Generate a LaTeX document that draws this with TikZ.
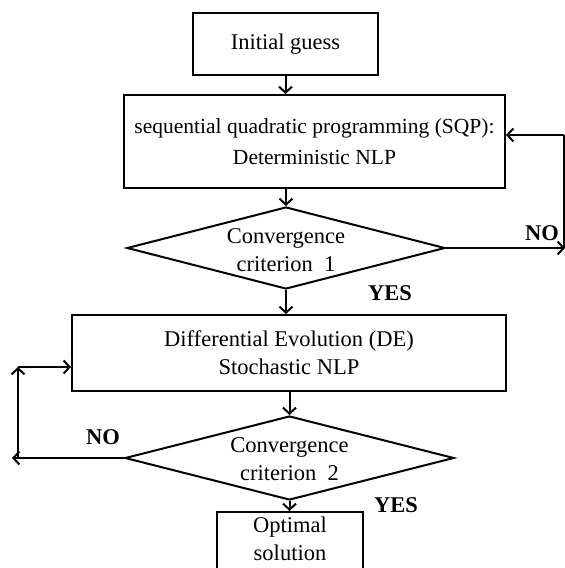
\documentclass[tikz,border=0pt]{standalone}
\usepackage{fontspec}
\setmainfont{Liberation Serif}
\usetikzlibrary{arrows.meta,shapes.geometric}
\begin{document}
\begin{tikzpicture}[x=1pt,y=-1pt,
  every node/.style={font=\fontsize{22.5}{28}\selectfont, align=center, inner sep=0pt},
  box/.style={draw, line width=2pt, rectangle},
  dia/.style={draw, line width=2pt, diamond},
  lbl/.style={font=\fontsize{22.5}{28}\selectfont\bfseries},
  conn/.style={line width=2pt, -{Straight Barb[length=6pt,width=13pt,line width=2pt]}},
  plain/.style={line width=2pt}]
\useasboundingbox (0,0) rectangle (565,568);
\node[box, minimum width=185pt, minimum height=62pt] (init) at (285.5,44) {Initial guess};
\node[box, minimum width=381pt, minimum height=93pt, font=\fontsize{21.5}{31}\selectfont] (sqp) at (314.5,141.5) {sequential quadratic programming (SQP):\\Deterministic NLP};
\node[dia, minimum width=318pt, minimum height=82pt] (d1) at (286,248) {};
\node (t1) at (286,250) {Convergence\\criterion\ \ 1};
\node[box, minimum width=434pt, minimum height=76pt] (de) at (289,353) {Differential Evolution (DE)\\Stochastic NLP};
\node[dia, minimum width=329pt, minimum height=84pt] (d2) at (289.5,458) {};
\node (t2) at (289.5,459) {Convergence\\criterion\ \ 2};
\node[box, minimum width=146pt, minimum height=62pt] (opt) at (290,543) {};
\node (t3) at (290,539) {Optimal\\solution};
\node[lbl] (no1) at (542,233) {NO};
\node[lbl] (yes1) at (390,293) {YES};
\node[lbl] (no2) at (103,437) {NO};
\node[lbl] (yes2) at (396,505) {YES};
\coordinate (r1) at (565,248);
\coordinate (r0) at (564,248);
\coordinate (r2) at (564,135);
\coordinate (l1) at (12,458);
\coordinate (l0) at (18,458);
\coordinate (l2) at (18,367);
\draw[conn] (init.south) -- (init.south |- sqp.north);
\draw[conn] (sqp.south -| d1.north) -- (d1.north);
\draw[conn] (d1.south) -- (d1.south |- de.north);
\draw[conn] (de.south -| d2.north) -- (d2.north);
\draw[conn] (d2.south) -- (d2.south |- opt.north);
\draw[conn] (d1.east) -- (r1);
\draw[plain] (r0) -- (r2);
\draw[conn] (r2) -- (r2 -| sqp.east);
\draw[conn] (d2.west) -- (l1);
\draw[conn] (l0) -- (l2);
\draw[conn] (l2) -- (l2 -| de.west);
\end{tikzpicture}
\end{document}
